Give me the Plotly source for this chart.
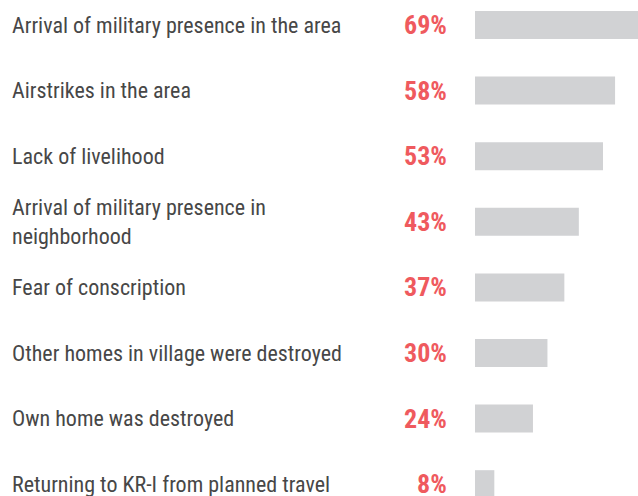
import plotly.graph_objects as go

categories = [
    "Arrival of military presence in the area",
    "Airstrikes in the area",
    "Lack of livelihood",
    "Arrival of military presence in<br>neighborhood",
    "Fear of conscription",
    "Other homes in village were destroyed",
    "Own home was destroyed",
    "Returning to KR-I from planned travel",
]
values = [69, 58, 53, 43, 37, 30, 24, 8]
value_labels = [f"{v}%" for v in values]

W, H = 638, 496
pos = list(range(len(categories)))

LABEL_FONT = "Roboto Condensed, Arial Narrow, DejaVu Sans Condensed, sans-serif"

fig = go.Figure(
    go.Bar(
        x=values,
        y=pos,
        orientation="h",
        marker=dict(color="#D1D2D4", line=dict(width=0)),
        width=0.427,
        hoverinfo="skip",
    )
)

annotations = []
for i, (c, lab) in enumerate(zip(categories, value_labels)):
    annotations.append(dict(
        x=10 / W, xref="paper", y=i, yref="y", text=c, showarrow=False,
        xanchor="left", yanchor="middle", align="left",
        font=dict(family=LABEL_FONT, size=22, color="#474747"),
    ))
    annotations.append(dict(
        x=449 / W, xref="paper", y=i, yref="y", text=f"<b>{lab}</b>", showarrow=False,
        xanchor="right", yanchor="middle", align="right",
        font=dict(family=LABEL_FONT, size=26, color="#EF5A5E"),
    ))

fig.update_layout(
    width=W, height=H,
    margin=dict(l=0, r=0, t=0, b=0),
    paper_bgcolor="white", plot_bgcolor="white",
    showlegend=False,
    xaxis=dict(domain=[475 / W, 1], range=[0, (W - 475) / 2.415], visible=False, fixedrange=True),
    yaxis=dict(range=[(H - 25) / 65.6, -25 / 65.6], visible=False, fixedrange=True),
    annotations=annotations,
)

fig.write_html("out.html")
